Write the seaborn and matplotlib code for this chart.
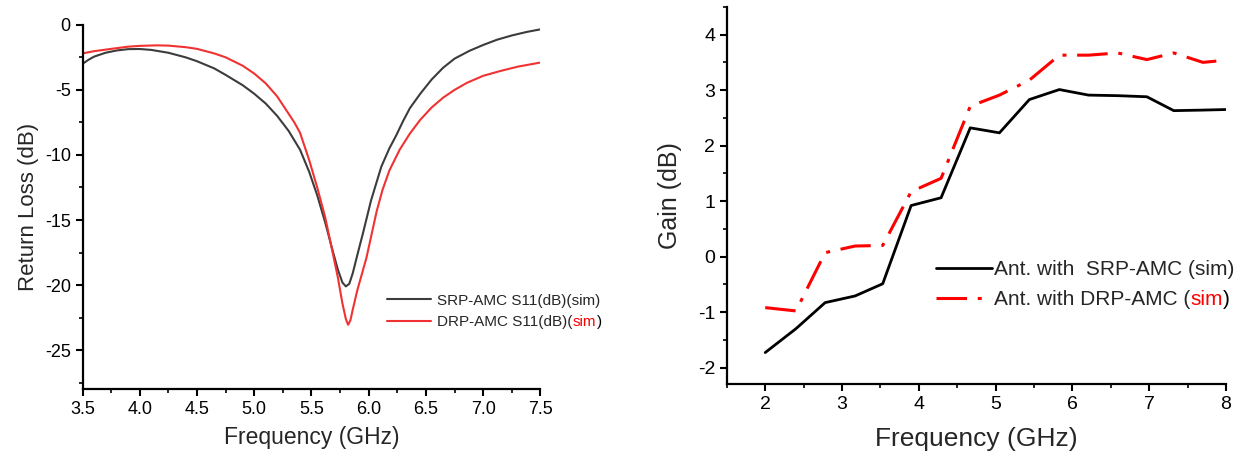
import numpy as np
import pandas as pd
import matplotlib
matplotlib.use("Agg")
import matplotlib.pyplot as plt
from matplotlib.ticker import MultipleLocator, FormatStrFormatter
import seaborn as sns

# ---------------- data: left panel (S11 / return loss) ----------------
srp_freq = [3.50, 3.55, 3.60, 3.70, 3.80, 3.90, 4.00, 4.10, 4.25, 4.40, 4.50, 4.65,
            4.75, 4.90, 5.00, 5.10, 5.20, 5.30, 5.40, 5.48, 5.55, 5.62, 5.68, 5.73,
            5.77, 5.80, 5.83, 5.86, 5.90, 5.95, 6.02, 6.11, 6.18, 6.24, 6.30, 6.36,
            6.45, 6.55, 6.65, 6.75, 6.88, 7.00, 7.12, 7.25, 7.38, 7.50]
srp_s11 = [-3.00, -2.70, -2.45, -2.15, -1.97, -1.87, -1.86, -1.93, -2.15, -2.50, -2.80, -3.35,
           -3.85, -4.65, -5.30, -6.05, -7.00, -8.15, -9.60, -11.30, -13.10, -15.20, -17.20, -18.80,
           -19.80, -20.10, -19.90, -19.10, -17.70, -16.00, -13.50, -10.90, -9.50, -8.50, -7.40, -6.40,
           -5.30, -4.20, -3.30, -2.60, -2.00, -1.55, -1.15, -0.82, -0.55, -0.35]

drp_freq = [3.50, 3.60, 3.75, 3.90, 4.00, 4.15, 4.25, 4.40, 4.50, 4.65, 4.75, 4.90,
            5.00, 5.10, 5.20, 5.29, 5.35, 5.40, 5.48, 5.55, 5.62, 5.68, 5.73, 5.77,
            5.80, 5.82, 5.84, 5.86, 5.90, 5.98, 6.07, 6.12, 6.18, 6.27, 6.36, 6.45,
            6.55, 6.65, 6.75, 6.86, 7.00, 7.15, 7.30, 7.50]
drp_s11 = [-2.20, -2.03, -1.85, -1.68, -1.62, -1.58, -1.60, -1.72, -1.85, -2.20, -2.50, -3.15,
           -3.75, -4.50, -5.50, -6.70, -7.50, -8.30, -10.40, -12.50, -14.80, -17.30, -19.40, -21.40,
           -22.60, -23.05, -22.70, -21.90, -20.40, -17.90, -14.30, -12.70, -11.20, -9.60, -8.35, -7.30,
           -6.35, -5.60, -5.00, -4.45, -3.92, -3.55, -3.22, -2.90]

# ---------------- data: right panel (gain) ----------------
gain_freq = [2.00, 2.40, 2.78, 3.17, 3.53, 3.90, 4.29, 4.67, 5.05, 5.44, 5.83,
             6.21, 6.59, 6.97, 7.32, 7.70, 8.00]
gain_srp = [-1.73, -1.30, -0.83, -0.71, -0.49, 0.92, 1.06, 2.32, 2.23, 2.83, 3.01,
            2.91, 2.90, 2.88, 2.63, 2.64, 2.65]
gain_drp = [-0.92, -0.98, 0.07, 0.19, 0.20, 1.17, 1.41, 2.71, 2.91, 3.18, 3.63,
            3.63, 3.67, 3.55, 3.67, 3.50, 3.54]

left_labels = ["SRP-AMC S11(dB)(sim)", "DRP-AMC S11(dB)("]
right_labels = ["Ant. with  SRP-AMC (sim)", "Ant. with DRP-AMC ("]

# ---------------- style ----------------
sns.set_theme(style="ticks")
plt.rcParams["font.family"] = ["Liberation Sans", "DejaVu Sans"]
plt.rcParams["axes.unicode_minus"] = False

fig = plt.figure(figsize=(12.51, 4.59), dpi=100)
ax1 = fig.add_axes([0.066, 0.152, 0.366, 0.794])
ax2 = fig.add_axes([0.581, 0.163, 0.399, 0.822])

df_l1 = pd.DataFrame({"f": srp_freq, "v": srp_s11})
df_l2 = pd.DataFrame({"f": drp_freq, "v": drp_s11})
sns.lineplot(data=df_l1, x="f", y="v", ax=ax1, color="#3c3c3c", lw=1.5,
             label=left_labels[0], estimator=None)
sns.lineplot(data=df_l2, x="f", y="v", ax=ax1, color="#f03232", lw=1.5,
             label=left_labels[1], estimator=None)

df_g = pd.DataFrame({"f": gain_freq, "srp": gain_srp, "drp": gain_drp})
sns.lineplot(data=df_g, x="f", y="srp", ax=ax2, color="black", lw=2.0,
             label=right_labels[0], estimator=None)
sns.lineplot(data=df_g, x="f", y="drp", ax=ax2, color="#ff0000", lw=2.2,
             label=right_labels[1], estimator=None, linestyle=(0, (10, 3.5, 1.3, 3.5)))

for ax in (ax1, ax2):
    sns.despine(ax=ax)
    for s in ("left", "bottom"):
        ax.spines[s].set_linewidth(1.6)
        ax.spines[s].set_color("black")
    ax.tick_params(which="major", direction="out", length=5, width=1.5, colors="black")
    ax.tick_params(which="minor", direction="out", length=3, width=1.2, colors="black")

# left axes
ax1.set_xlim(3.5, 7.5)
ax1.set_ylim(-28, 0)
ax1.xaxis.set_major_locator(MultipleLocator(0.5))
ax1.xaxis.set_minor_locator(MultipleLocator(0.25))
ax1.yaxis.set_major_locator(MultipleLocator(5))
ax1.yaxis.set_minor_locator(MultipleLocator(2.5))
ax1.xaxis.set_major_formatter(FormatStrFormatter("%.1f"))
ax1.tick_params(labelsize=13)
ax1.set_xlabel("Frequency (GHz)", fontsize=16.5, labelpad=6)
ax1.set_ylabel("Return Loss (dB)", fontsize=16, labelpad=4)

# right axes
ax2.set_xlim(1.5, 8)
ax2.set_ylim(-2.3, 4.5)
ax2.xaxis.set_major_locator(MultipleLocator(1))
ax2.xaxis.set_minor_locator(MultipleLocator(0.5))
ax2.yaxis.set_major_locator(MultipleLocator(1))
ax2.yaxis.set_minor_locator(MultipleLocator(0.5))
ax2.tick_params(labelsize=14)
ax2.set_xlabel("Frequency (GHz)", fontsize=19, labelpad=10)
ax2.set_ylabel("Gain (dB)", fontsize=18, labelpad=11)

# legends
leg1 = ax1.legend(loc="upper left", bbox_to_anchor=(0.665, 0.262), frameon=False,
                  fontsize=11, handlelength=2.9, handletextpad=0.4,
                  labelspacing=0.5, borderpad=0, borderaxespad=0)
leg2 = ax2.legend(loc="upper left", bbox_to_anchor=(0.42, 0.328), frameon=False,
                  fontsize=15, handlelength=2.65, handletextpad=0.1,
                  labelspacing=0.5, borderpad=0, borderaxespad=0)


def add_red_tail(ax, txt, size):
    a = ax.annotate("sim", xy=(1, 0), xycoords=txt, xytext=(0, 0),
                    textcoords="offset points", ha="left", va="bottom",
                    fontsize=size, color="#ff0000", zorder=20)
    ax.annotate(")", xy=(1, 0), xycoords=a, xytext=(0, 0),
                textcoords="offset points", ha="left", va="bottom",
                fontsize=size, color="black", zorder=21)


add_red_tail(ax1, leg1.get_texts()[1], 11)
add_red_tail(ax2, leg2.get_texts()[1], 15)

fig.savefig("out.png", dpi=100)
